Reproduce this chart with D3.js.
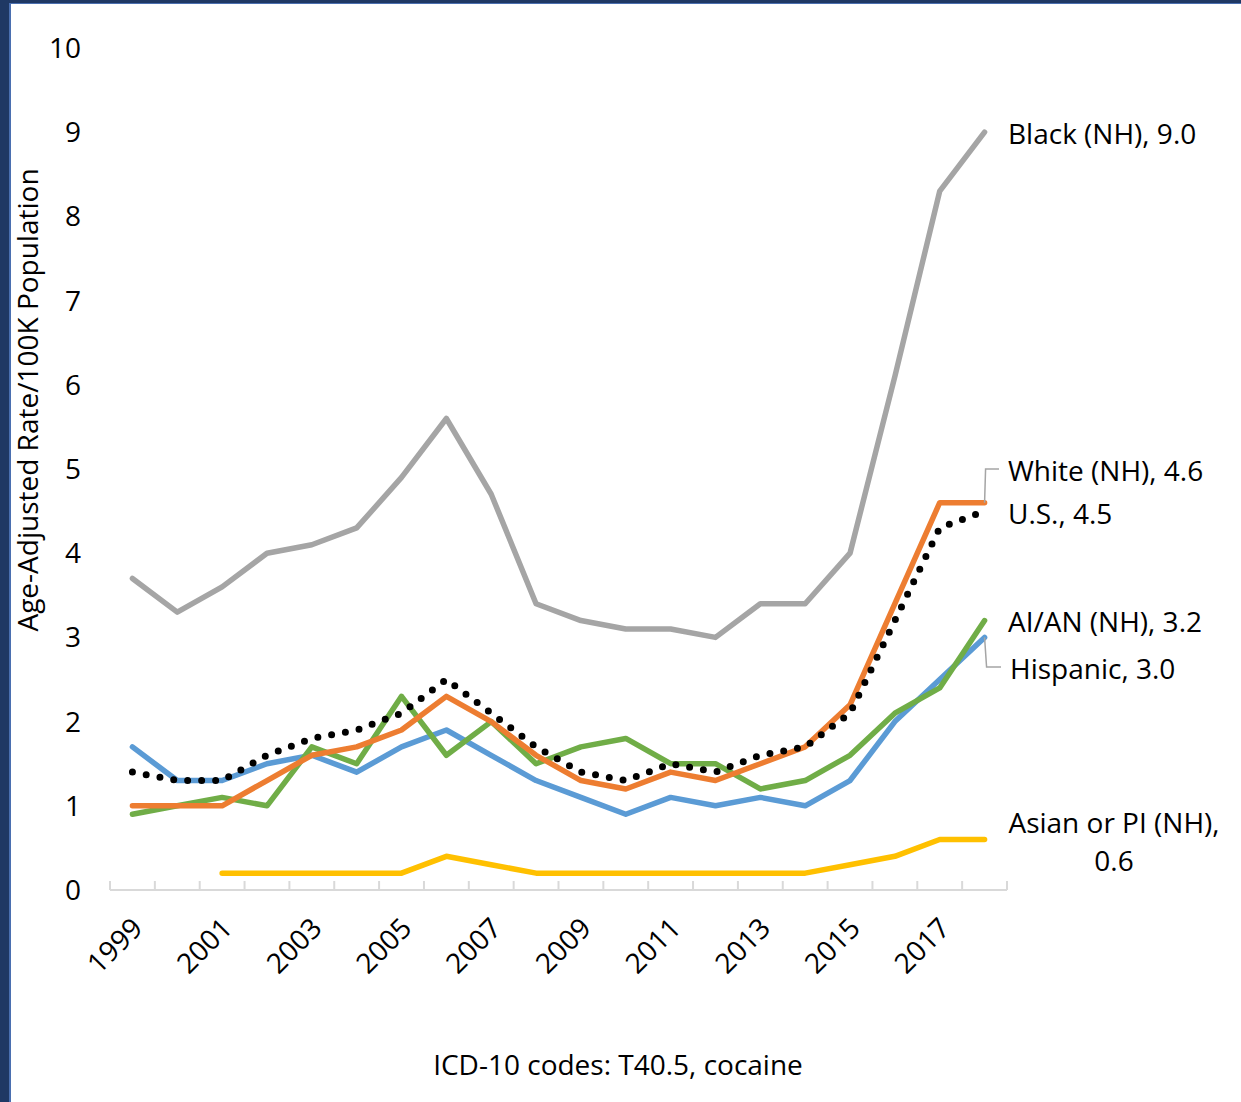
<!DOCTYPE html>
<html>
<head>
<meta charset="utf-8">
<script src="https://cdn.jsdelivr.net/npm/d3@7"></script>
<style>
  html, body { margin: 0; padding: 0; background: #fff; }
  #chart { position: relative; width: 1241px; height: 1102px; overflow: hidden; }
  text { font-family: 'Open Sans', 'Noto Sans', sans-serif; fill: #000; }
</style>
</head>
<body>
<div id="chart"></div>
<script>
var years = d3.range(1999, 2019);
var tickYears = [1999, 2001, 2003, 2005, 2007, 2009, 2011, 2013, 2015, 2017];
var yTicks = [0, 1, 2, 3, 4, 5, 6, 7, 8, 9, 10];

var black    = [3.7, 3.3, 3.6, 4.0, 4.1, 4.3, 4.9, 5.6, 4.7, 3.4, 3.2, 3.1, 3.1, 3.0, 3.4, 3.4, 4.0, 6.1, 8.3, 9.0];
var white    = [1.0, 1.0, 1.0, 1.3, 1.6, 1.7, 1.9, 2.3, 2.0, 1.6, 1.3, 1.2, 1.4, 1.3, 1.5, 1.7, 2.2, 3.4, 4.6, 4.6];
var us       = [1.4, 1.3, 1.3, 1.6, 1.8, 1.9, 2.1, 2.5, 2.1, 1.7, 1.4, 1.3, 1.5, 1.4, 1.6, 1.7, 2.1, 3.2, 4.3, 4.5];
var hispanic = [1.7, 1.3, 1.3, 1.5, 1.6, 1.4, 1.7, 1.9, 1.6, 1.3, 1.1, 0.9, 1.1, 1.0, 1.1, 1.0, 1.3, 2.0, 2.5, 3.0];
var aian     = [0.9, 1.0, 1.1, 1.0, 1.7, 1.5, 2.3, 1.6, 2.0, 1.5, 1.7, 1.8, 1.5, 1.5, 1.2, 1.3, 1.6, 2.1, 2.4, 3.2];
var asian    = [null, null, 0.2, 0.2, 0.2, 0.2, 0.2, 0.4, 0.3, 0.2, 0.2, 0.2, 0.2, 0.2, 0.2, 0.2, 0.3, 0.4, 0.6, 0.6];

var series = [
  {name: 'Black (NH)', values: black, color: '#A5A5A5'},
  {name: 'Asian or PI (NH)', values: asian, color: '#FFC000'},
  {name: 'Hispanic', values: hispanic, color: '#5B9BD5'},
  {name: 'AI/AN (NH)', values: aian, color: '#70AD47'},
  {name: 'White (NH)', values: white, color: '#ED7D31'},
  {name: 'U.S.', values: us, color: '#000', dotted: true}
];

var W = 1241, H = 1102;
var fontSize = '28px';

var svg = d3.select('#chart').append('svg')
  .attr('width', W)
  .attr('height', H);

// frame like the slide
svg.append('rect').attr('x', 0).attr('y', 0).attr('width', W).attr('height', 4).attr('fill', '#1F3864');
svg.append('rect').attr('x', 0).attr('y', 3).attr('width', W).attr('height', 1).attr('fill', '#4A6FB0');
svg.append('rect').attr('x', 0).attr('y', 0).attr('width', 10).attr('height', H).attr('fill', '#1F3864');
svg.append('rect').attr('x', 9).attr('y', 3).attr('width', 2).attr('height', H).attr('fill', '#4A6FB0');

var x = d3.scaleBand().domain(years).range([110, 1007]);
var y = d3.scaleLinear().domain([0, 10]).range([890, 48]);
var cx = (i) => x(years[i]) + x.bandwidth() / 2;

// y tick labels (no axis line)
svg.append('g')
  .selectAll('text')
  .data(yTicks)
  .enter()
  .append('text')
  .attr('x', 81)
  .attr('y', (d) => y(d))
  .attr('dy', '0.36em')
  .attr('text-anchor', 'end')
  .style('font-size', fontSize)
  .text((d) => d);

// x axis
var xAxis = svg.append('g').attr('transform', 'translate(0,890)');
xAxis.append('line')
  .attr('x1', 110).attr('x2', 1007)
  .attr('stroke', '#D9D9D9').attr('stroke-width', 2);
xAxis.selectAll('line.tick')
  .data(years.concat([2019]))
  .enter()
  .append('line')
  .attr('class', 'tick')
  .attr('x1', (d, i) => 110 + i * x.step())
  .attr('x2', (d, i) => 110 + i * x.step())
  .attr('y1', -9).attr('y2', 0)
  .attr('stroke', '#D9D9D9').attr('stroke-width', 2);
xAxis.selectAll('text')
  .data(tickYears)
  .enter()
  .append('text')
  .attr('transform', (d) => 'translate(' + (x(d) + x.bandwidth() / 2 - 2) + ',26) rotate(-45)')
  .attr('text-anchor', 'end')
  .attr('dy', '0.7em')
  .style('font-size', fontSize)
  .text((d) => d);

// lines
var line = d3.line()
  .defined((d) => d != null)
  .x((d, i) => cx(i))
  .y((d) => y(d));

svg.append('g')
  .selectAll('path')
  .data(series)
  .enter()
  .append('path')
  .attr('d', (d) => line(d.values))
  .attr('fill', 'none')
  .attr('stroke', (d) => d.color)
  .attr('stroke-width', (d) => d.dotted ? 7 : 5.5)
  .attr('stroke-linejoin', 'round')
  .attr('stroke-linecap', 'round')
  .attr('stroke-dasharray', (d) => d.dotted ? '0,14' : null);

// leader lines
var last = years.length - 1;
svg.append('path')
  .attr('d', 'M' + cx(last) + ',' + y(white[last]) + 'L' + (cx(last) + 1) + ',' + 469 + 'L' + 999 + ',469')
  .attr('fill', 'none').attr('stroke', '#A5A5A5').attr('stroke-width', 1.5);
svg.append('path')
  .attr('d', 'M' + cx(last) + ',' + y(hispanic[last]) + 'L' + (cx(last) + 2) + ',' + 667 + 'L' + 1001 + ',667')
  .attr('fill', 'none').attr('stroke', '#A5A5A5').attr('stroke-width', 1.5);

// end labels
var labels = [
  {lines: ['Black (NH), ' + black[last].toFixed(1)], x: 1008, y: 134, anchor: 'start'},
  {lines: ['White (NH), ' + white[last].toFixed(1)], x: 1008, y: 471, anchor: 'start'},
  {lines: ['U.S., ' + us[last].toFixed(1)], x: 1008, y: 514, anchor: 'start'},
  {lines: ['AI/AN (NH), ' + aian[last].toFixed(1)], x: 1008, y: 622, anchor: 'start'},
  {lines: ['Hispanic, ' + hispanic[last].toFixed(1)], x: 1010, y: 669, anchor: 'start'},
  {lines: ['Asian or PI (NH),', asian[last].toFixed(1)], x: 1114, y: 823, anchor: 'middle'}
];
labels.forEach(function(l) {
  var t = svg.append('text')
    .attr('x', l.x)
    .attr('y', l.y)
    .attr('text-anchor', l.anchor)
    .style('font-size', fontSize);
  l.lines.forEach(function(s, j) {
    t.append('tspan')
      .attr('x', l.x)
      .attr('dy', j === 0 ? '0.36em' : '38px')
      .text(s);
  });
});

// axis title
svg.append('text')
  .attr('transform', 'translate(28,400) rotate(-90)')
  .attr('text-anchor', 'middle')
  .attr('dy', '0.35em')
  .style('font-size', fontSize)
  .text('Age-Adjusted Rate/100K Population');

// footnote
svg.append('text')
  .attr('x', 618)
  .attr('y', 1065)
  .attr('dy', '0.35em')
  .attr('text-anchor', 'middle')
  .style('font-size', fontSize)
  .text('ICD-10 codes: T40.5, cocaine');
</script>
</body>
</html>
